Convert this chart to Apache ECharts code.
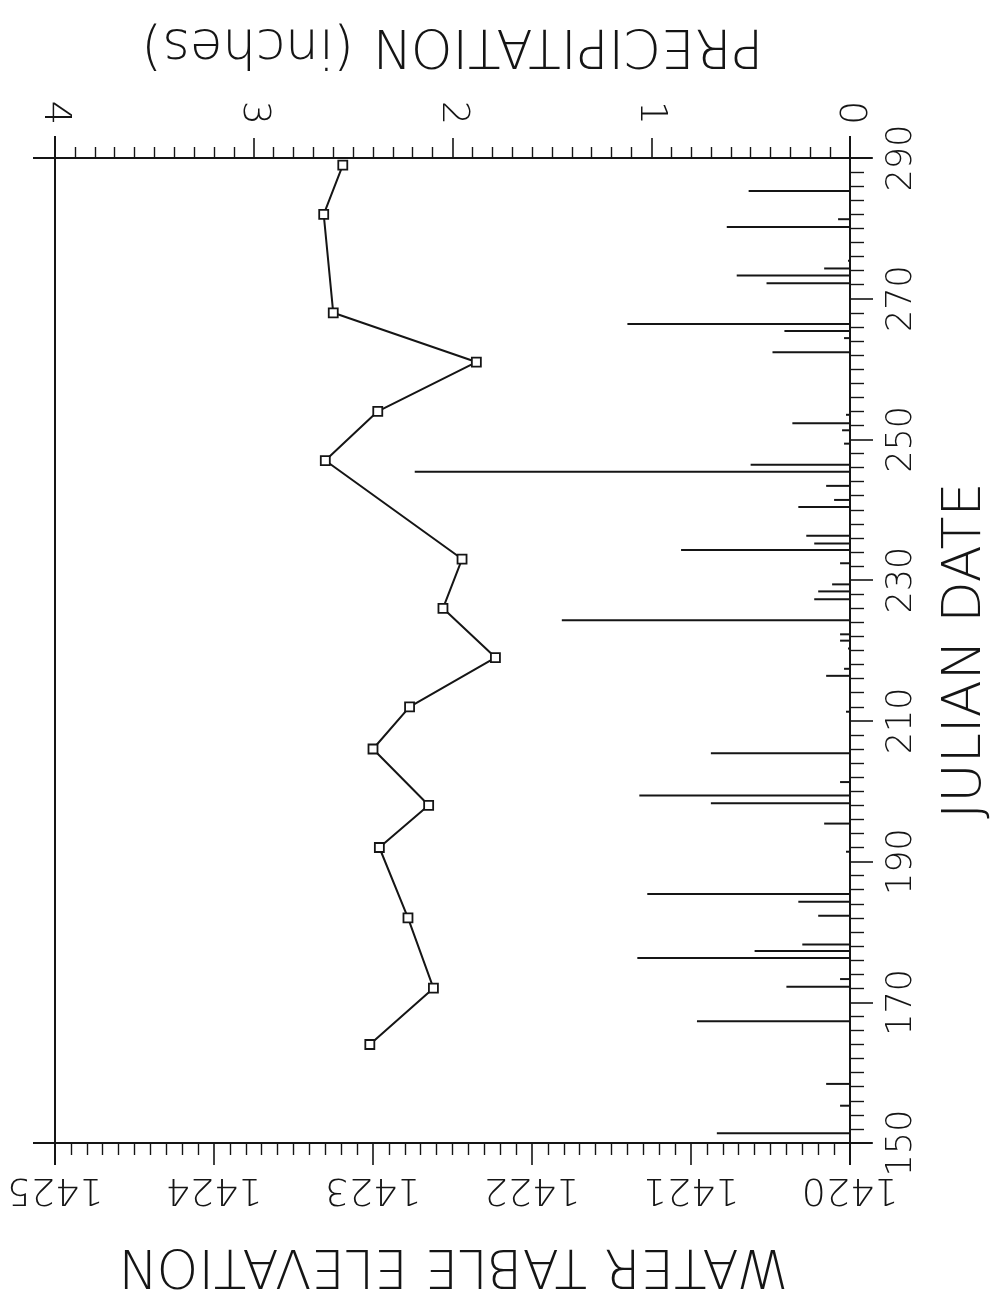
<!DOCTYPE html>
<html>
<head>
<meta charset="utf-8">
<script src="https://cdn.jsdelivr.net/npm/echarts@6/dist/echarts.min.js"></script>
<style>
html,body{margin:0;padding:0;background:#fff;}
#chart{width:995px;height:1301px;}
</style>
</head>
<body>
<div id="chart"></div>
<script>
// Water table elevation observations (Julian day, feet)
var wtDays = [164, 172, 182, 192, 198, 206, 212, 219, 226, 233, 247, 254, 261, 268, 282, 289];
var wtElev = [1423.02, 1422.62, 1422.78, 1422.96, 1422.65, 1423.00, 1422.77, 1422.23, 1422.56, 1422.44, 1423.30, 1422.97, 1422.35, 1423.25, 1423.31, 1423.19];

// Daily precipitation (Julian day, inches)
var precipDays = [151.4, 155.3, 158.4, 167.3, 172.2, 173.3, 176.3, 177.3, 178.2, 182.3, 184.3, 185.4, 191.4, 195.4, 198.3, 199.4, 201.3, 205.4, 211.3, 216.4, 217.4, 220.3, 221.4, 222.3, 224.3, 227.3, 228.4, 229.4, 232.4, 234.3, 235.2, 236.3, 240.4, 241.4, 243.4, 245.4, 246.4, 249.4, 251.3, 252.3, 253.5, 262.4, 264.4, 265.4, 266.4, 272.2, 273.3, 274.3, 275.4, 280.2, 281.3, 285.3];
var precipInches = [0.67, 0.05, 0.12, 0.77, 0.32, 0.05, 1.07, 0.48, 0.24, 0.16, 0.26, 1.02, 0.02, 0.13, 0.70, 1.06, 0.05, 0.70, 0.02, 0.12, 0.03, 0.01, 0.05, 0.05, 1.45, 0.18, 0.16, 0.09, 0.05, 0.85, 0.18, 0.22, 0.26, 0.08, 0.12, 2.19, 0.50, 0.03, 0.04, 0.29, 0.02, 0.39, 0.03, 0.33, 1.12, 0.42, 0.57, 0.13, 0.01, 0.62, 0.06, 0.51];

// Axis titles
var titleDate = 'JULIAN DATE';
var titleElev = 'WATER TABLE ELEVATION';
var titlePrecip = 'PRECIPITATION (inches)';

var FONT = 'DejaVu Sans';
var FW = 200;
var INK = '#151515';

var wtData = wtDays.map(function (d, i) { return [wtElev[i], d]; });
var precipData = precipDays.map(function (d, i) { return [precipInches[i], d]; });

var chart = echarts.init(document.getElementById('chart'), null, {renderer: 'canvas'});

function lbl(size, extra) {
  var o = {fontSize: size, color: INK, fontFamily: FONT, fontWeight: FW};
  for (var k in extra) o[k] = extra[k];
  return o;
}

chart.setOption({
  backgroundColor: '#ffffff',
  animation: false,
  grid: {
    left: 55, right: 145, top: 158, bottom: 158,
    outerBoundsMode: 'none', containLabel: false,
    show: true, borderColor: INK, borderWidth: 2, backgroundColor: 'transparent'
  },
  xAxis: [
    {
      type: 'value', position: 'bottom', min: 1420, max: 1425, interval: 1, inverse: true,
      axisLine: {show: true, onZero: false, lineStyle: {color: INK, width: 2}},
      axisTick: {show: true, inside: false, length: 22, lineStyle: {color: INK, width: 1.6}},
      minorTick: {show: true, splitNumber: 10, length: 12, lineStyle: {color: INK, width: 1.4}},
      splitLine: {show: false},
      axisLabel: lbl(38, {rotate: 180, margin: 27, formatter: function (v) { return String(v); }}),
      name: titleElev, nameLocation: 'middle', nameGap: 94, nameRotate: 180, nameMoveOverlap: false,
      nameTextStyle: lbl(53, {})
    },
    {
      type: 'value', position: 'top', min: 0, max: 4, interval: 1, inverse: true,
      axisLine: {show: true, onZero: false, lineStyle: {color: INK, width: 2}},
      axisTick: {show: true, inside: false, length: 20, lineStyle: {color: INK, width: 1.6}},
      minorTick: {show: true, splitNumber: 10, length: 11, lineStyle: {color: INK, width: 1.4}},
      splitLine: {show: false},
      axisLabel: lbl(38, {rotate: 90, margin: 33, formatter: function (v) { return String(v); }}),
      name: titlePrecip, nameLocation: 'middle', nameGap: 88, nameRotate: 180,
      nameTextStyle: lbl(53, {})
    }
  ],
  yAxis: [
    {
      type: 'value', position: 'right', min: 150, max: 290, interval: 20,
      axisLine: {show: true, onZero: false, lineStyle: {color: INK, width: 2}},
      axisTick: {show: true, inside: false, length: 23, lineStyle: {color: INK, width: 1.6}},
      minorTick: {show: true, splitNumber: 10, length: 14, lineStyle: {color: INK, width: 1.4}},
      splitLine: {show: false},
      axisLabel: lbl(35, {rotate: 90, margin: 34, formatter: function (v) { return String(v); }}),
      name: titleDate, nameLocation: 'middle', nameGap: 89, nameRotate: 90, nameMoveOverlap: false,
      nameTextStyle: lbl(54, {})
    }
  ],
  series: [
    {
      name: 'Precipitation',
      type: 'custom',
      xAxisIndex: 1, yAxisIndex: 0,
      data: precipData,
      encode: {x: 0, y: 1},
      renderItem: function (params, api) {
        var day = api.value(1);
        var p0 = api.coord([0, day]);
        var p1 = api.coord([api.value(0), day]);
        return {
          type: 'line',
          shape: {x1: p0[0], y1: p0[1], x2: p1[0], y2: p1[1]},
          style: {stroke: INK, lineWidth: 2}
        };
      },
      z: 2
    },
    {
      name: 'Water table',
      type: 'line',
      xAxisIndex: 0, yAxisIndex: 0,
      data: wtData,
      symbol: 'rect', symbolSize: 9, showAllSymbol: true,
      lineStyle: {color: INK, width: 2},
      itemStyle: {color: '#ffffff', borderColor: INK, borderWidth: 1.8},
      z: 3
    }
  ]
});

// Frame lines run a little past each corner, as in the plotted original.
var c1 = chart.convertToPixel({xAxisIndex: 0, yAxisIndex: 0}, [1425, 290]);
var c2 = chart.convertToPixel({xAxisIndex: 0, yAxisIndex: 0}, [1420, 150]);
var ext = 22;
function seg(x1, y1, x2, y2) {
  return {type: 'line', shape: {x1: x1, y1: y1, x2: x2, y2: y2},
    style: {stroke: INK, lineWidth: 2}, silent: true, z: 10};
}
chart.setOption({
  graphic: [
    seg(c1[0] - ext, c1[1], c2[0] + ext, c1[1]),
    seg(c1[0] - ext, c2[1], c2[0] + ext, c2[1]),
    seg(c1[0], c1[1] - ext, c1[0], c2[1] + ext),
    seg(c2[0], c1[1] - ext, c2[0], c2[1] + ext)
  ]
});
</script>
</body>
</html>
